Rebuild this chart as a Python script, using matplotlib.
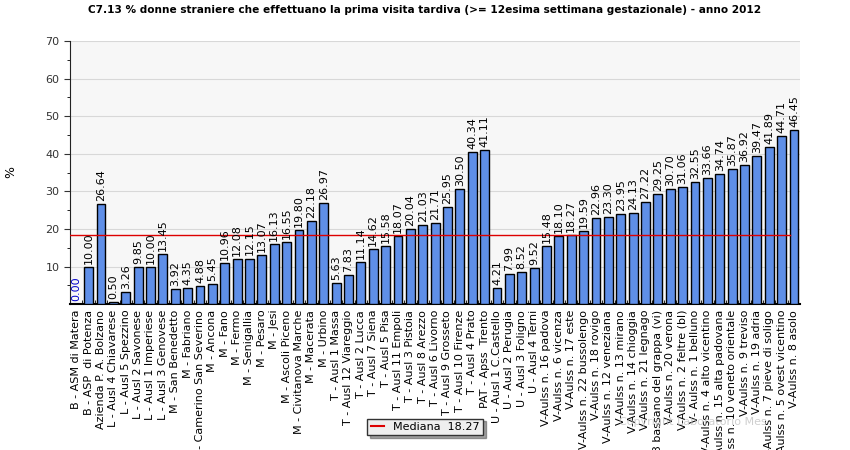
import numpy as np
import matplotlib.pyplot as plt
from matplotlib.lines import Line2D

AZIENDE = [
    "B - ASM di Matera", "B - ASP  di Potenza", "Azienda P. A. Bolzano",
    "L - Ausl 4 Chiavarese", "L - Ausl 5 Spezzino", "L - Ausl 2 Savonese",
    "L - Ausl 1 Imperiese", "L - Ausl 3 Genovese", "M - San Benedetto",
    "M - Fabriano", "M - Camerino San Severino", "M - Ancona", "M - Fano",
    "M - Fermo", "M - Senigallia", "M - Pesaro", "M - Jesi",
    "M - Ascoli Piceno", "M - Civitanova Marche", "M - Macerata",
    "M - Urbino", "T - Ausl 1 Massa", "T - Ausl 12 Viareggio",
    "T - Ausl 2 Lucca", "T - Ausl 7 Siena", "T - Ausl 5 Pisa",
    "T - Ausl 11 Empoli", "T - Ausl 3 Pistoia", "T - Ausl 8 Arezzo",
    "T - Ausl 6 Livorno", "T - Ausl 9 Grosseto", "T - Ausl 10 Firenze",
    "T - Ausl 4 Prato", "PAT - Apss  Trento", "U - Ausl 1 C.Castello",
    "U - Ausl 2 Perugia", "U - Ausl 3 Foligno", "U - Ausl 4 Terni",
    "V-Aulss n. 16 padova", "V-Aulss n. 6 vicenza", "V-Aulss n. 17 este",
    "V-Aulss n. 22 bussolengo", "V-Aulss n. 18 rovigo",
    "V-Aulss n. 12 veneziana", "V-Aulss n. 13 mirano",
    "V-Aulss n. 14 chioggia", "V-Aulss n. 21 legnago",
    "V-Aulss n. 3 bassano del grappa (vi)", "V-Aulss n. 20 verona",
    "V-Aulss n. 2 feltre (bl)", "V- Aulss n. 1 belluno",
    "V-Aulss n. 4 alto vicentino", "V-Aulss n. 15 alta padovana",
    "V-Aulss n. 10 veneto orientale", "V-Aulss n. 9 treviso",
    "V-Aulss n. 19 adria", "V-Aulss n. 7 pieve di soligo",
    "V-Aulss n. 5 ovest vicentino", "V-Aulss n. 8 asolo",
]

VALORI = [
    0.00, 10.00, 26.64, 0.50, 3.26, 9.85, 10.00, 13.45, 3.92, 4.35,
    4.88, 5.45, 10.96, 12.08, 12.15, 13.07, 16.13, 16.55, 19.80, 22.18,
    26.97, 5.63, 7.83, 11.14, 14.62, 15.58, 18.07, 20.04, 21.03, 21.71,
    25.95, 30.50, 40.34, 41.11, 4.21, 7.99, 8.52, 9.52, 15.48, 18.10,
    18.27, 19.59, 22.96, 23.30, 23.95, 24.13, 27.22, 29.25, 30.70, 31.06,
    32.55, 33.66, 34.74, 35.87, 36.92, 39.47, 41.89, 44.71, 46.45,
]

MEDIANA = 18.27
TITOLO = "C7.13 % donne straniere che effettuano la prima visita tardiva (>= 12esima settimana gestazionale) - anno 2012"


def main() -> None:
    fig = plt.figure(figsize=(8.5, 4.5), dpi=100)
    ax = fig.add_axes([0.0824, 0.324, 0.859, 0.585])
    ax.set_facecolor("#f7f7f7")

    x = np.arange(len(VALORI))
    ax.bar(x, VALORI, width=0.72, color="#5f8fe8", edgecolor="black", linewidth=1.0, zorder=3)
    ax.plot([-0.5, len(VALORI) - 1.3], [MEDIANA, MEDIANA], color="#dd0000", linewidth=1.0, zorder=4)

    for i, v in enumerate(VALORI):
        ax.text(i, v + 0.8, f"{v:.2f}", rotation=90, ha="center", va="bottom",
                fontsize=8, color="#0000cc" if v == 0 else "black", zorder=5)

    ax.set_xlim(-0.5, len(VALORI) - 0.5)
    ax.set_ylim(0, 70)
    ax.set_yticks(range(10, 71, 10))
    ax.set_yticks(range(5, 70, 10), minor=True)
    ax.yaxis.grid(True, color="#d8d8d8", linewidth=0.8, zorder=0)
    ax.tick_params(axis="y", labelsize=8, length=4, color="#333333", labelcolor="#333333")
    ax.tick_params(axis="y", which="minor", length=2)

    ax.set_xticks(x)
    ax.set_xticklabels(AZIENDE, rotation=90, fontsize=8)
    ax.set_xticks(x[:-1] + 0.5, minor=True)
    ax.tick_params(axis="x", which="major", length=0, pad=4)
    ax.tick_params(axis="x", which="minor", length=3, direction="in")

    for s in ["top", "right"]:
        ax.spines[s].set_visible(False)
    ax.spines["left"].set_color("#222222")
    ax.spines["bottom"].set_linewidth(1.5)

    fig.text(0.013, 0.617, "%", rotation=90, ha="center", va="center", fontsize=9)
    fig.text(0.5, 0.977, TITOLO, ha="center", va="center", fontsize=7.6, fontweight="bold")

    handle = Line2D([], [], color="#dd0000", linewidth=1.5)
    leg = fig.legend([handle], [f"Mediana  {MEDIANA:.2f}"], loc="center",
                     bbox_to_anchor=(0.5, 0.051), fontsize=8, fancybox=False,
                     shadow=True, handlelength=1.2, borderpad=0.3, framealpha=1)
    leg.get_frame().set_facecolor("#eeeeee")
    leg.get_frame().set_edgecolor("#333333")

    fig.text(0.815, 0.062, "Copyright Laboratorio Mes", ha="center", va="center",
             fontsize=8, color="#bbbbbb", alpha=0.7)

    fig.savefig("out.png", dpi=100)
    plt.close(fig)


if __name__ == "__main__":
    main()
